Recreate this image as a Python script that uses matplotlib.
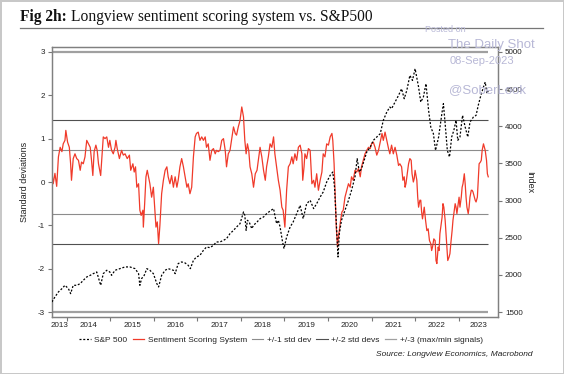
import matplotlib
matplotlib.use("Agg")
import matplotlib.pyplot as plt
from matplotlib.lines import Line2D
from matplotlib.ticker import FixedLocator, NullFormatter, FixedFormatter

plt.rcParams['font.family'] = ['Liberation Sans', 'DejaVu Sans']
plt.rcParams['axes.unicode_minus'] = False

# --- data (time in decimal years) ---
sent_t = [2013.66, 2013.69, 2013.73, 2013.77, 2013.81, 2013.85, 2013.89, 2013.92, 2013.96, 2013.98,
          2014.02, 2014.06, 2014.09, 2014.11, 2014.15, 2014.19, 2014.23, 2014.27, 2014.31, 2014.34,
          2014.38, 2014.42, 2014.46, 2014.50, 2014.54, 2014.57, 2014.60, 2014.63, 2014.67, 2014.70,
          2014.73, 2014.78, 2014.81, 2014.84, 2014.88, 2014.92, 2014.96, 2014.99, 2015.03, 2015.07,
          2015.11, 2015.13, 2015.16, 2015.21, 2015.26, 2015.30, 2015.34, 2015.39, 2015.44, 2015.47,
          2015.52, 2015.55, 2015.58, 2015.61, 2015.65, 2015.68, 2015.71, 2015.75, 2015.76, 2015.79,
          2015.82, 2015.85, 2015.88, 2015.91, 2015.95, 2015.99, 2016.02, 2016.05, 2016.08, 2016.11,
          2016.14, 2016.18, 2016.22, 2016.26, 2016.30, 2016.33, 2016.37, 2016.41, 2016.45, 2016.49,
          2016.53, 2016.56, 2016.60, 2016.64, 2016.68, 2016.72, 2016.76, 2016.79, 2016.83, 2016.87,
          2016.91, 2016.95, 2016.98, 2017.02, 2017.06, 2017.10, 2017.14, 2017.18, 2017.21, 2017.25,
          2017.29, 2017.33, 2017.37, 2017.41, 2017.44, 2017.48, 2017.52, 2017.56, 2017.60, 2017.64,
          2017.67, 2017.71, 2017.75, 2017.79, 2017.83, 2017.87, 2017.90, 2017.94, 2017.98, 2018.02,
          2018.06, 2018.09, 2018.12, 2018.15, 2018.18, 2018.21, 2018.25, 2018.29, 2018.33, 2018.37,
          2018.40, 2018.44, 2018.48, 2018.52, 2018.56, 2018.59, 2018.63, 2018.67, 2018.71, 2018.75,
          2018.78, 2018.82, 2018.86, 2018.90, 2018.94, 2018.97, 2019.01, 2019.05, 2019.09, 2019.13,
          2019.17, 2019.20, 2019.24, 2019.28, 2019.32, 2019.36, 2019.40, 2019.42, 2019.45, 2019.47,
          2019.51, 2019.55, 2019.59, 2019.63, 2019.67, 2019.70, 2019.74, 2019.78, 2019.82, 2019.86,
          2019.89, 2019.93, 2019.97, 2020.01, 2020.05, 2020.09, 2020.11, 2020.14, 2020.16, 2020.19,
          2020.22, 2020.24, 2020.26, 2020.29, 2020.32, 2020.35, 2020.39, 2020.43, 2020.47, 2020.51,
          2020.54, 2020.58, 2020.62, 2020.66, 2020.70, 2020.74, 2020.77, 2020.81, 2020.85, 2020.89,
          2020.93, 2020.97, 2021.00, 2021.04, 2021.08, 2021.12, 2021.16, 2021.20, 2021.24, 2021.27,
          2021.31, 2021.35, 2021.39, 2021.42, 2021.46, 2021.50, 2021.54, 2021.58, 2021.62, 2021.65,
          2021.69, 2021.72, 2021.75, 2021.77, 2021.79, 2021.82, 2021.85, 2021.88, 2021.91, 2021.93,
          2021.96, 2021.98, 2022.00, 2022.04, 2022.06, 2022.08, 2022.11, 2022.13, 2022.15, 2022.17,
          2022.21, 2022.24, 2022.27, 2022.30, 2022.33, 2022.36, 2022.38, 2022.40, 2022.43, 2022.46,
          2022.48, 2022.50, 2022.53, 2022.55, 2022.57, 2022.60, 2022.62, 2022.64, 2022.66, 2022.69,
          2022.71, 2022.73, 2022.75, 2022.78, 2022.80, 2022.82, 2022.85, 2022.87, 2022.89, 2022.92,
          2022.94, 2022.96, 2022.99, 2023.01, 2023.03, 2023.06, 2023.08, 2023.10, 2023.13, 2023.15,
          2023.17, 2023.19, 2023.22, 2023.24, 2023.26, 2023.29, 2023.31, 2023.33, 2023.36, 2023.38,
          2023.40, 2023.43, 2023.45, 2023.47, 2023.50, 2023.52, 2023.54, 2023.57, 2023.59, 2023.61,
          2023.64, 2023.66, 2023.68]
sent_v = [0.23, -0.04, 0.20, -0.10, 0.58, 0.80, 0.70, 0.88, 0.96, 1.19,
          0.92, 0.80, 0.42, 0.04, 0.54, 0.65, 0.54, 0.50, 0.27, 0.46,
          0.42, 0.58, 0.96, 0.88, 0.80, 0.50, 0.15, 0.70, 0.85, 0.73,
          0.42, 0.15, 0.58, 1.04, 1.00, 1.04, 0.80, 0.96, 0.73, 0.65,
          0.80, 0.96, 0.77, 0.54, 0.73, 0.62, 0.65, 0.54, 0.62, 0.27,
          0.42, 0.23, 0.35, -0.12, -0.04, -0.65, -0.77, -0.65, -1.04, -0.50,
          0.12, 0.27, 0.12, -0.04, -0.35, -0.12, -0.58, -1.04, -0.92, -1.42,
          -1.00, -0.27, 0.04, 0.27, 0.35, 0.12, -0.04, 0.15, -0.12, 0.12,
          -0.12, 0.04, 0.35, 0.54, 0.35, 0.12, -0.12, -0.04, -0.27, -0.12,
          0.58, 1.04, 1.12, 1.15, 0.96, 1.04, 0.96, 1.04, 0.80, 0.88,
          0.50, 0.73, 0.77, 0.65, 0.73, 0.70, 0.73, 0.96, 1.00, 0.73,
          0.35, 0.65, 0.73, 1.00, 1.27, 1.12, 1.08, 1.27, 1.42, 1.73,
          1.50, 0.96, 0.65, 0.88, 0.73, 0.35, 0.19, -0.12, 0.19, 0.27,
          0.50, 0.80, 0.58, 0.27, 0.04, 0.35, 0.58, 0.88, 0.80, 1.04,
          0.65, 0.35, 0.04, -0.19, -0.58, -0.65, -1.04, -0.19, 0.35, 0.42,
          0.58, 0.42, 0.65, 0.50, 0.80, 0.85, 0.65, 0.04, 0.35, 0.65,
          0.54, 0.77, 0.73, -0.04, 0.04, -0.12, 0.19, -0.19, 0.04, 0.23,
          0.65, 0.58, 0.88, 0.85, 1.04, 1.12, 0.96, 0.42, -0.19, -1.04,
          -1.50, -1.27, -1.12, -0.88, -0.69, -0.65, -0.35, -0.19, -0.04, -0.12,
          0.12, 0.04, 0.27, 0.23, 0.31, 0.12, 0.35, 0.50, 0.65, 0.73,
          0.80, 0.77, 0.88, 0.92, 0.80, 0.62, 0.73, 0.92, 1.12, 0.96,
          1.15, 0.96, 0.77, 0.65, 0.85, 0.65, 0.80, 0.62, 0.38, 0.42,
          0.35, 0.04, 0.12, -0.12, -0.04, 0.19, 0.42, 0.54, 0.50, 0.19,
          0.00, 0.08, 0.27, 0.04, -0.35, -0.58, -0.42, -0.42, -0.69, -0.85,
          -0.58, -0.88, -1.12, -1.08, -1.35, -1.42, -1.58, -1.50, -1.31, -1.35,
          -1.81, -1.88, -1.50, -1.58, -1.19, -0.96, -0.81, -0.50, -0.58, -0.88,
          -1.19, -1.50, -1.81, -1.73, -1.65, -1.42, -1.12, -0.88, -0.73, -0.50,
          -0.58, -0.73, -0.50, -0.35, -0.58, -0.35, -0.12, -0.04, 0.19, -0.04,
          -0.35, -0.58, -0.73, -0.58, -0.35, -0.19, -0.19, -0.23, -0.35, -0.42,
          -0.46, -0.35, 0.04, 0.42, 0.46, 0.50, 0.73, 0.88, 0.80, 0.73,
          0.50, 0.19, 0.12]

spx_t = [2013.66, 2013.73, 2013.81, 2013.89, 2013.96, 2014.04, 2014.09, 2014.15, 2014.23, 2014.31,
         2014.38, 2014.46, 2014.54, 2014.61, 2014.69, 2014.78, 2014.84, 2014.92, 2014.99, 2015.03,
         2015.11, 2015.22, 2015.34, 2015.45, 2015.57, 2015.65, 2015.68, 2015.72, 2015.78, 2015.84,
         2015.91, 2015.99, 2016.07, 2016.11, 2016.18, 2016.26, 2016.33, 2016.45, 2016.49, 2016.56,
         2016.64, 2016.72, 2016.79, 2016.84, 2016.91, 2016.98, 2017.06, 2017.14, 2017.21, 2017.29,
         2017.37, 2017.44, 2017.52, 2017.60, 2017.67, 2017.75, 2017.83, 2017.90, 2017.98, 2018.06,
         2018.09, 2018.12, 2018.15, 2018.19, 2018.25, 2018.29, 2018.37, 2018.44, 2018.52, 2018.59,
         2018.67, 2018.75, 2018.78, 2018.82, 2018.86, 2018.90, 2018.95, 2018.99, 2019.05, 2019.13,
         2019.20, 2019.28, 2019.36, 2019.43, 2019.51, 2019.59, 2019.67, 2019.74, 2019.82, 2019.89,
         2019.97, 2020.05, 2020.11, 2020.15, 2020.18, 2020.21, 2020.23, 2020.26, 2020.31, 2020.39,
         2020.47, 2020.54, 2020.62, 2020.67, 2020.72, 2020.77, 2020.83, 2020.89, 2020.97, 2021.04,
         2021.12, 2021.20, 2021.27, 2021.35, 2021.42, 2021.46, 2021.54, 2021.62, 2021.69, 2021.75,
         2021.81, 2021.88, 2021.94, 2022.00, 2022.08, 2022.13, 2022.19, 2022.25, 2022.31, 2022.36,
         2022.42, 2022.47, 2022.54, 2022.62, 2022.65, 2022.69, 2022.74, 2022.79, 2022.84, 2022.89,
         2022.94, 2022.98, 2023.03, 2023.09, 2023.15, 2023.21, 2023.26, 2023.34, 2023.40, 2023.45,
         2023.51, 2023.57, 2023.61, 2023.65, 2023.68]
spx_v = [1637, 1704, 1772, 1816, 1861, 1816, 1749, 1861, 1861, 1883,
         1928, 1973, 1995, 2018, 2040, 1861, 2018, 2063, 2040, 1995,
         2063, 2085, 2108, 2108, 2085, 2018, 1861, 1951, 1995, 2085,
         2063, 2018, 1883, 1839, 1995, 2063, 2085, 2063, 2018, 2153,
         2175, 2161, 2130, 2085, 2197, 2242, 2264, 2332, 2376, 2367,
         2399, 2444, 2444, 2466, 2488, 2556, 2600, 2645, 2690, 2847,
         2802, 2600, 2735, 2712, 2623, 2668, 2712, 2757, 2780, 2824,
         2860, 2892, 2802, 2690, 2735, 2645, 2466, 2354, 2511, 2645,
         2712, 2824, 2936, 2757, 2959, 3004, 2892, 2959, 3048, 3116,
         3250, 3340, 3384, 3183, 2824, 2466, 2242, 2556, 2735, 2869,
         3004, 3138, 3317, 3564, 3384, 3429, 3541, 3653, 3720, 3810,
         3855, 3900, 4079, 4191, 4258, 4236, 4325, 4415, 4504, 4370,
         4482, 4684, 4616, 4773, 4527, 4325, 4392, 4572, 4213, 3989,
         3900, 3676, 3855, 4191, 4303, 4034, 3676, 3586, 3855, 3945,
         4079, 3810, 3855, 4146, 3989, 3855, 4056, 4124, 4146, 4280,
         4415, 4527, 4594, 4437, 4482]

band_1 = 0.74
band_2 = 1.44
band_3 = 3.0

years = list(range(2014, 2024))
year_labels = [str(y) for y in range(2013, 2024)]

# --- figure ---
fig = plt.figure(figsize=(5.64, 3.74), dpi=100)
fig.patch.set_edgecolor('#c8c8c8')
fig.patch.set_linewidth(2)

ax = fig.add_axes([0.0917, 0.1532, 0.7913, 0.7203])
ax2 = ax.twinx()

x0, x1 = 2013.656, 2023.904
t0, t1 = sent_t[0], sent_t[-1]

ax.hlines([band_3, -band_3], t0, t1, color='#a0a0a0', lw=1.6, zorder=1)
ax.hlines([band_2, -band_2], t0, t1, color='#505050', lw=0.8, zorder=1)
ax.hlines([band_1, -band_1], t0, t1, color='#8c8c8c', lw=0.8, zorder=1)
ax.plot(sent_t, sent_v, color='#f03a2a', lw=0.9, zorder=2)
ax2.plot(spx_t, spx_v, color='black', lw=0.9, ls=(0, (1.6, 1.4)), zorder=3)

ax.set_xlim(x0, x1)
ax.set_ylim(-3.105, 3.105)
ax2.set_ylim(3250 - 583.33 * 3.105, 3250 + 583.33 * 3.105)
ax2.set_zorder(ax.get_zorder() + 1)
ax2.patch.set_visible(False)

# x ticks: marks at year starts, labels in the middle of each visible year
mids = [(x0 + 2014) / 2] + [y + 0.5 for y in range(2014, 2023)] + [(2023 + x1) / 2]
ax.xaxis.set_major_locator(FixedLocator(years))
ax.xaxis.set_major_formatter(NullFormatter())
ax.xaxis.set_minor_locator(FixedLocator(mids))
ax.xaxis.set_minor_formatter(FixedFormatter(year_labels))
ax.tick_params(axis='x', which='major', length=3, width=0.8, color='#777777', direction='out')
ax.tick_params(axis='x', which='minor', length=0, labelsize=5.8, pad=4, labelcolor='#222222')

ax.set_yticks([-3, -2, -1, 0, 1, 2, 3])
ax.tick_params(axis='y', length=3, width=0.8, color='#777777', labelsize=5.8, labelcolor='#222222', pad=2)
ax2.set_yticks(range(1500, 5001, 500))
ax2.tick_params(axis='y', length=3, width=0.8, color='#777777', labelsize=5.8, labelcolor='#222222', pad=2)

for a in (ax, ax2):
    for s in a.spines.values():
        s.set_color('#808080')
        s.set_linewidth(0.9)

ax.set_ylabel('Standard deviations', fontsize=6.5, color='#222222', labelpad=6)
ax2.set_ylabel('Index', fontsize=6.5, color='#222222', rotation=-90, labelpad=8)

# legend
handles = [
    Line2D([], [], color='black', lw=0.9, ls=(0, (1.6, 1.4))),
    Line2D([], [], color='#f03a2a', lw=0.9),
    Line2D([], [], color='#8c8c8c', lw=0.8),
    Line2D([], [], color='#505050', lw=0.8),
    Line2D([], [], color='#a0a0a0', lw=0.9),
]
labels = ['S&P 500', 'Sentiment Scoring System', '+/-1 std dev', '+/-2 std devs',
          '+/-3 (max/min signals)']
fig.legend(handles, labels, loc='center', bbox_to_anchor=(281 / 564, 1 - 340 / 374), ncol=5,
           frameon=False, fontsize=6, handlelength=1.4, handletextpad=0.4, columnspacing=0.6,
           labelcolor='#222222')

fig.text(533 / 564, 1 - 354.5 / 374, 'Source: Longview Economics, Macrobond', ha='right',
         va='center', fontsize=6, style='italic', color='#222222')

# title
serif = ['Liberation Serif', 'DejaVu Serif']
t_bold = fig.text(20 / 564, 1 - 21 / 374, 'Fig 2h:', fontsize=11.2, fontweight='bold',
                  family=serif, ha='left', va='baseline', color='#111111')
fig.canvas.draw()
bb = t_bold.get_window_extent()
fig.text((bb.x1 + 4) / 564, 1 - 21 / 374, 'Longview sentiment scoring system vs. S&P500',
         fontsize=11.2, family=serif, ha='left', va='baseline', color='#111111')
fig.add_artist(Line2D([20 / 564, 543 / 564], [1 - 27.5 / 374, 1 - 27.5 / 374],
                      color='#777777', lw=0.9, transform=fig.transFigure))

# watermark
wm = '#b8b8d6'
fig.text(445 / 564, 1 - 29 / 374, 'Posted on', fontsize=6.5, color=wm, ha='center', va='center')
fig.text(491 / 564, 1 - 45 / 374, 'The Daily Shot', fontsize=9.5, color=wm, ha='center', va='center')
fig.text(482 / 564, 1 - 60.5 / 374, '08-Sep-2023', fontsize=8, color=wm, ha='center', va='center')
fig.text(487 / 564, 1 - 90 / 374, '@SoberLook', fontsize=9.5, color=wm, ha='center', va='center')

fig.savefig('out.png', dpi=100)
